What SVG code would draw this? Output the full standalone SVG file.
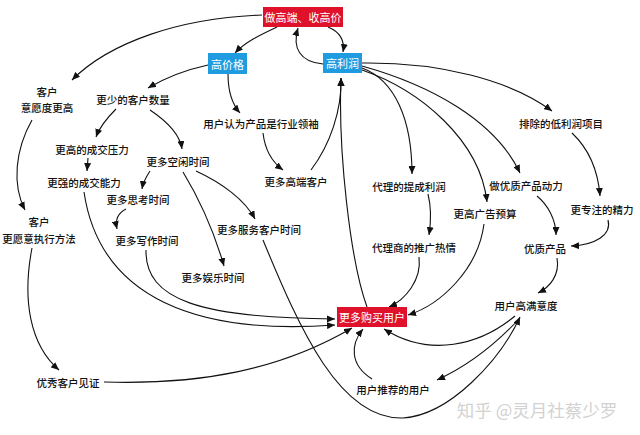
<svg xmlns="http://www.w3.org/2000/svg" width="640" height="435" viewBox="0 0 640 435">
<defs>
<marker id="ah" markerUnits="userSpaceOnUse" markerWidth="8" markerHeight="7" refX="8" refY="3.5" orient="auto">
<path d="M0,0 L8,3.5 L0,7 z" fill="#111"/>
</marker>
<style>
text{font-family:"Noto Sans CJK SC","Noto Sans",sans-serif;font-size:10.5px;font-weight:500;fill:#111;text-anchor:middle;dominant-baseline:central}
.box text{fill:#fff;font-size:11px;font-weight:400}
.red{fill:#e0112b}
.blue{fill:#1f9ce0}
#connectors path{fill:none;stroke:#111;stroke-width:1.1;marker-end:url(#ah)}
.wm{fill:#d2d2d2;font-size:17.5px;font-weight:400}
</style>
</defs>
<rect width="640" height="435" fill="#fff"/>
<g id="connectors">
<path d="M262,15 C180,18 110,42 72,80"/>
<path d="M277,27 C260,35 245,42 235,53"/>
<path d="M328,27 C340,32 345,40 343,52"/>
<path d="M323,64 C300,62 292,48 298,28"/>
<path d="M208,65 C185,70 165,78 148,88"/>
<path d="M228,74 C228,90 232,104 240,113"/>
<path d="M32,120 C15,150 12,185 25,210"/>
<path d="M116,109 C108,117 100,126 96,137"/>
<path d="M150,110 C168,122 180,135 182,149"/>
<path d="M88,158 L87,171"/>
<path d="M150,171 C146,177 143,183 142,189"/>
<path d="M196,171 C222,183 245,200 255,219"/>
<path d="M183,172 C200,200 215,235 224,266"/>
<path d="M126,209 C118,213 115,220 117,229"/>
<path d="M84,192 C100,300 200,335 335,325"/>
<path d="M146,250 C145,300 200,318 335,319"/>
<path d="M263,133 C265,150 272,162 283,170"/>
<path d="M311,170 C330,145 342,110 341,78"/>
<path d="M367,307 C350,260 338,150 341,78"/>
<path d="M362,68 C395,80 412,120 412,174"/>
<path d="M362,70 C420,90 480,140 487,202"/>
<path d="M362,66 C430,85 495,120 520,173"/>
<path d="M362,63 C440,62 510,80 552,111"/>
<path d="M572,133 C590,150 598,170 600,196"/>
<path d="M608,220 C612,235 595,245 571,246"/>
<path d="M537,196 C548,205 556,220 556,235"/>
<path d="M428,194 C432,210 431,222 429,235"/>
<path d="M419,257 C422,280 405,300 389,307"/>
<path d="M484,224 C478,270 440,305 408,315"/>
<path d="M557,258 C560,275 550,287 538,293"/>
<path d="M515,316 C480,345 430,358 384,329"/>
<path d="M520,318 C495,345 470,365 437,380"/>
<path d="M372,379 C350,365 350,345 363,329"/>
<path d="M32,248 C22,300 30,345 59,370"/>
<path d="M104,382 C200,385 280,370 352,328"/>
<path d="M263,240 C300,330 340,420 403,418 C450,415 500,360 520,317"/>
</g>
<g id="n-top" class="box"><rect class="red" x="263" y="7" width="80" height="20"/><text x="303" y="17">做高端、收高价</text></g>
<g id="n-price" class="box"><rect class="blue" x="208" y="53" width="39" height="21"/><text x="227.5" y="63.5">高价格</text></g>
<g id="n-profit" class="box"><rect class="blue" x="323" y="53" width="39" height="20"/><text x="342.5" y="63">高利润</text></g>
<g id="n-buy" class="box"><rect class="red" x="337" y="307" width="70" height="20"/><text x="372" y="317">更多购买用户</text></g>
<g id="n-willing"><text x="47" y="91">客户</text><text x="47" y="107">意愿度更高</text></g>
<g id="n-fewer"><text x="133" y="99">更少的客户数量</text></g>
<g id="n-leader"><text x="261" y="123">用户认为产品是行业领袖</text></g>
<g id="n-pressure"><text x="92" y="149">更高的成交压力</text></g>
<g id="n-free"><text x="178" y="161">更多空闲时间</text></g>
<g id="n-highend"><text x="296" y="181">更多高端客户</text></g>
<g id="n-ability"><text x="84" y="182">更强的成交能力</text></g>
<g id="n-think"><text x="138" y="199">更多思考时间</text></g>
<g id="n-execute"><text x="39" y="221">客户</text><text x="39" y="238">更愿意执行方法</text></g>
<g id="n-write"><text x="147" y="240">更多写作时间</text></g>
<g id="n-service"><text x="259" y="229">更多服务客户时间</text></g>
<g id="n-fun"><text x="213" y="277">更多娱乐时间</text></g>
<g id="n-witness"><text x="68" y="382">优秀客户见证</text></g>
<g id="n-exclude"><text x="561" y="123">排除的低利润项目</text></g>
<g id="n-commission"><text x="409" y="186">代理的提成利润</text></g>
<g id="n-motive"><text x="526" y="185">做优质产品动力</text></g>
<g id="n-focus"><text x="602" y="209">更专注的精力</text></g>
<g id="n-ads"><text x="485" y="213">更高广告预算</text></g>
<g id="n-agent"><text x="414" y="247">代理商的推广热情</text></g>
<g id="n-quality"><text x="545" y="248">优质产品</text></g>
<g id="n-satisfy"><text x="526" y="305">用户高满意度</text></g>
<g id="n-refer"><text x="393" y="389">用户推荐的用户</text></g>
<text class="wm" x="537" y="409">知乎 @灵月社蔡少罗</text>
</svg>
